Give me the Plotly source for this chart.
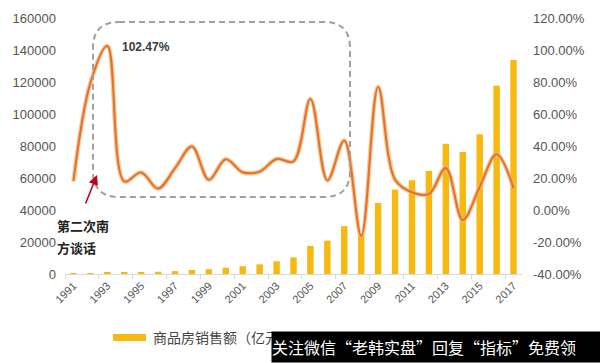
import plotly.graph_objects as go

years = list(range(1991, 2018))
sales = [237.8, 426.6, 864.1, 1018.5, 1258.2, 1427.1, 1799.4, 2513.3, 2987.9, 3935.4,
         4862.8, 6032.3, 7955.7, 10375.7, 17576.1, 20825.9, 29889.1, 25068.2, 44355.2,
         52721.2, 58588.9, 64455.8, 81428.3, 76292.4, 87280.8, 117627.0, 133701.0]
growth = [18.0, 79.4, 102.47, 17.9, 23.5, 13.4, 26.1, 39.7, 18.9, 31.7, 23.6, 24.0, 31.9,
          30.4, 69.4, 18.5, 43.5, -16.1, 76.9, 18.9, 11.1, 10.0, 26.3, -6.3, 14.4, 34.8, 13.7]
left_ticks = [0, 20000, 40000, 60000, 80000, 100000, 120000, 140000, 160000]
right_ticks = [-40, -20, 0, 20, 40, 60, 80, 100, 120]
label_years = years[::2]

W, H = 600, 363
L, R, T, B = 65, 522, 18, 274


def px(x):
    return (x - L) / (R - L)


def py(y):
    return (B - y) / (B - T)


fig = go.Figure()
fig.add_trace(go.Bar(x=years, y=sales, width=0.38, marker=dict(color="#F7B90F", line=dict(width=0)),
                     name="商品房销售额（亿元）", showlegend=False))
fig.add_trace(go.Scatter(x=years, y=growth, yaxis="y2", mode="lines",
                         line=dict(color="rgba(246,180,120,0.75)", width=4.5, shape="spline", smoothing=1.0),
                         showlegend=False, hoverinfo="skip"))
fig.add_trace(go.Scatter(x=years, y=growth, yaxis="y2", mode="lines",
                         line=dict(color="#E0722A", width=2, shape="spline", smoothing=1.0),
                         name="商品房销售额增速（右轴）", showlegend=False))

tickfont = dict(family="Liberation Sans, Arial", size=13, color="#555555")

x0p, x1p, y0p, y1p, rx = 93, 350, 22, 197, 26
path = (f"M {x0p+rx},{y0p} L {x1p-rx},{y0p} Q {x1p},{y0p} {x1p},{y0p+rx} "
        f"L {x1p},{y1p-rx} Q {x1p},{y1p} {x1p-rx},{y1p} L {x0p+rx},{y1p} "
        f"Q {x0p},{y1p} {x0p},{y1p-rx} L {x0p},{y0p+rx} Q {x0p},{y0p} {x0p+rx},{y0p} Z")


def conv_path(p):
    toks = p.replace(",", " ").split()
    out = []
    nums = []
    for t in toks:
        if t.isalpha():
            out.append(t)
        else:
            nums.append(float(t))
            if len(nums) == 2:
                out.append(f"{px(nums[0]):.5f},{py(nums[1]):.5f}")
                nums = []
    return " ".join(out)


shapes = [
    dict(type="path", xref="paper", yref="paper", path=conv_path(path),
         line=dict(color="#A0A0A0", width=2, dash="6px,4px"), layer="above"),
    dict(type="rect", xref="paper", yref="paper", x0=px(113), x1=px(146), y0=py(341), y1=py(334),
         fillcolor="#F7B90F", line=dict(width=0)),
]

cjk = "Noto Sans CJK SC"
annotations = [
    dict(xref="paper", yref="paper", x=px(120), y=py(47), xanchor="left", yanchor="middle",
         text="<b>102.47%</b>", showarrow=False, font=dict(family="Liberation Sans, Arial", size=12, color="#3A3A3A")),
    dict(xref="paper", yref="paper", x=px(97), y=py(175), text="", showarrow=True,
         ax=-12, ay=30, arrowcolor="#C0001A", arrowhead=2, arrowsize=1.3, arrowwidth=1.5),
    dict(xref="paper", yref="paper", x=px(55), y=py(225), xanchor="left", yanchor="middle",
         text="<b>第二次南</b>", showarrow=False,
         font=dict(family=cjk, size=13, color="#222222")),
    dict(xref="paper", yref="paper", x=px(55), y=py(247), xanchor="left", yanchor="middle",
         text="<b>方谈话</b>", showarrow=False,
         font=dict(family=cjk, size=13, color="#222222")),
    dict(xref="paper", yref="paper", x=px(151), y=py(337), xanchor="left", yanchor="middle",
         text="商品房销售额（亿元）", showarrow=False, font=dict(family=cjk, size=14, color="#444444")),
    dict(xref="paper", yref="paper", x=px(271), y=py(363), xanchor="left", yanchor="bottom",
         width=329, height=30, bgcolor="#000000", borderpad=0, align="left",
         text="关注微信“老韩实盘”回复“指标”免费领", showarrow=False,
         font=dict(family=cjk, size=16, color="#FFFFFF")),
]

fig.update_layout(
    width=W, height=H,
    margin=dict(l=L, r=W - R, t=T, b=H - B),
    paper_bgcolor="white", plot_bgcolor="white",
    xaxis=dict(range=[1990.5, 2017.5], tickmode="array", tickvals=label_years,
               ticktext=[str(y) for y in label_years], tickangle=-45, ticks="",
               showline=True, linecolor="#D9D9D9", linewidth=1, showgrid=False, zeroline=False,
               tickfont=dict(family="Liberation Sans, Arial", size=11, color="#555555"),
               minor=dict(tick0=1990.5, dtick=2, ticks="outside", ticklen=4, tickcolor="#D9D9D9",
                          showgrid=False)),
    yaxis=dict(range=[0, 160000], tickmode="array", tickvals=left_ticks,
               ticktext=[str(v) for v in left_ticks], showgrid=False, zeroline=False,
               showline=False, tickfont=tickfont, ticklabelstandoff=8),
    yaxis2=dict(range=[-40, 120], overlaying="y", side="right", tickmode="array",
                tickvals=right_ticks, ticktext=[f"{v:.2f}%" for v in right_ticks],
                showgrid=False, zeroline=False, showline=False, tickfont=tickfont,
                ticklabelstandoff=10),
    shapes=shapes,
    annotations=annotations,
    showlegend=False,
)

fig.write_html("out.html", config={"displayModeBar": False},
               post_script="document.body.style.margin='0';document.body.style.padding='0';"
                           "document.body.style.overflow='hidden';")
